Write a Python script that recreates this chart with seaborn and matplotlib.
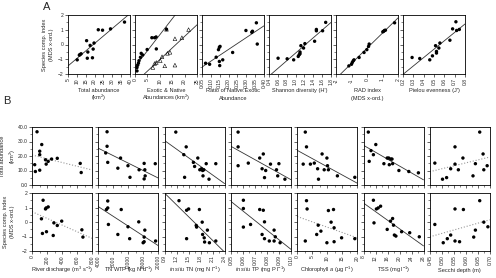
import numpy as np
import matplotlib
matplotlib.use('Agg')
import matplotlib.pyplot as plt
import seaborn as sns

sns.set_style('ticks')
plt.rcParams['font.family'] = ['Liberation Sans', 'DejaVu Sans']
plt.rcParams['mathtext.fontset'] = 'custom'
plt.rcParams['mathtext.rm'] = 'Liberation Sans'
plt.rcParams['mathtext.it'] = 'Liberation Sans:italic'
plt.rcParams['mathtext.default'] = 'regular'

# ---------------- data: panel A (y = species comp. index) ----------------
tot_abund_x = [10.2, 11.4, 12.4, 11.8, 15.5, 15.9, 16.2, 17.5, 18.8, 19.2, 19.7, 22.1, 24.5, 29.0, 36.9]
tot_abund_y = [-1.04, -0.72, -0.63, -0.68, 0.26, -0.93, -0.51, -0.06, -0.9, -0.31, 0.1, 1.0, 0.97, 1.06, 1.52]

native_x = [0.8, 1.1, 1.4, 1.6, 2.2, 2.5, 3.1, 4.9, 6.8, 7.9, 8.5, 8.6, 12.7, 0.8]
native_y = [-1.56, -1.40, -1.26, -1.10, -0.87, -0.60, -0.71, -0.34, 0.46, 0.46, 0.51, -0.30, 1.03, -1.79]
exotic_x = [7.2, 7.9, 8.6, 10.2, 10.9, 13.1, 14.1, 12.0, 16.1, 16.1, 18.9, 21.6, 12.7]
exotic_y = [-1.56, -1.29, -1.22, -1.10, -0.83, -0.60, -0.53, -1.45, -1.40, 0.39, 0.46, 1.01, 1.03]

ratio_x = [0.07, 0.093, 0.13, 0.143, 0.148, 0.152, 0.148, 0.15, 0.167, 0.223, 0.298, 0.331, 0.335, 0.357, 0.362]
ratio_y = [-1.27, -1.34, -0.86, -0.35, -0.19, -0.13, -1.15, -1.43, -1.04, -0.54, 0.95, 0.83, 0.9, 1.47, 0.03]

shannon_x = [0.605, 0.81, 0.957, 1.06, 1.08, 1.10, 1.12, 1.18, 1.21, 1.10, 1.43, 1.47, 1.47, 1.61, 1.68]
shannon_y = [-0.93, -0.97, -1.04, -0.81, -0.70, -0.63, -0.08, -0.24, 0.06, -0.51, 0.22, 0.93, 1.02, 0.93, 1.50]

rad_x = [-1.17, -1.0, -0.95, -0.89, -0.84, -0.51, -0.19, -0.01, 0.10, 0.14, 1.02, 1.08, 1.13, 1.19, 1.78]
rad_y = [-1.45, -1.34, -1.22, -1.11, -1.04, -0.88, -0.54, -0.35, -0.13, 0.03, 0.86, 0.90, 0.95, 0.97, 1.47]

pielou_x = [0.288, 0.362, 0.459, 0.485, 0.515, 0.524, 0.524, 0.547, 0.557, 0.654, 0.68, 0.712, 0.719, 0.745]
pielou_y = [-0.88, -0.95, -1.04, -0.77, -0.08, -0.58, -0.47, -0.24, 0.10, 0.29, 1.06, 1.54, 0.95, 1.02]

# ---------------- data: panel B ----------------
discharge_x1 = [67, 36, 45, 103, 103, 103, 130, 180, 189, 216, 261, 337, 643, 656]
discharge_y1 = [36.7, 14.0, 9.3, 10.2, 20.9, 23.3, 27.9, 17.4, 14.4, 16.3, 17.9, 18.4, 14.9, 8.6]
discharge_x2 = [148, 180, 189, 216, 126, 139, 193, 283, 292, 337, 396, 665, 679]
discharge_y2 = [1.50, 0.90, 0.97, 1.04, 0.22, -0.79, -0.67, -0.93, -0.06, -0.24, 0.06, -0.54, -1.04]

tnwtp_x1 = [6337, 6337, 5978, 6517, 9213, 9933, 11910, 12450, 14877, 16225, 16405, 16225, 16494, 19190]
tnwtp_y1 = [36.7, 26.7, 22.1, 15.6, 11.6, 18.6, 13.3, 5.3, 10.5, 14.9, 10.5, 4.2, 6.3, 14.7]
tnwtp_x2 = [6517, 6157, 6517, 6697, 10112, 9213, 11910, 12360, 14787, 16405, 16225, 15955, 16225, 19280]
tnwtp_y2 = [1.45, 0.86, 0.97, -0.17, 0.86, -0.86, -0.33, -1.15, 0.01, -0.56, -1.04, -1.43, -1.36, -1.31]

tn_x1 = [1.18, 1.44, 1.38, 1.40, 1.62, 1.65, 1.73, 1.78, 1.82, 1.85, 1.88, 1.86, 1.94, 2.01, 2.18]
tn_y1 = [36.5, 26.3, 20.9, 5.3, 15.6, 12.8, 18.6, 10.5, 11.2, 10.0, 10.5, 6.3, 14.7, 4.0, 14.7]
tn_x2 = [1.26, 1.45, 1.50, 1.45, 1.77, 1.84, 1.69, 1.70, 1.85, 1.89, 1.97, 1.90, 2.02, 2.18]
tn_y2 = [1.47, 0.81, 0.90, -1.15, 0.86, -0.01, -0.24, -0.35, -0.86, -1.09, -0.56, -1.38, -1.43, -1.31]

tp_x1 = [0.056, 0.056, 0.056, 0.0645, 0.074, 0.077, 0.076, 0.079, 0.078, 0.083, 0.088, 0.090, 0.089, 0.095]
tp_y1 = [36.5, 26.3, 13.3, 15.1, 18.6, 21.4, 11.2, 10.0, 5.1, 14.4, 10.5, 14.7, 6.3, 4.0]
tp_x2 = [0.0604, 0.0604, 0.0604, 0.0664, 0.074, 0.077, 0.078, 0.076, 0.078, 0.082, 0.086, 0.086, 0.087, 0.091]
tp_y2 = [1.50, 0.93, -0.35, -0.17, 0.86, 0.81, 0.01, -0.86, -1.15, -1.31, -0.56, -1.31, -1.02, -1.43]

chla_x1 = [2.7, 3.1, 2.0, 4.4, 5.7, 6.8, 7.1, 8.3, 9.0, 9.9, 10.1, 10.4, 13.4, 19.2]
chla_y1 = [36.5, 26.3, 14.4, 14.4, 15.1, 11.2, 4.0, 21.4, 10.5, 18.6, 13.3, 10.5, 6.3, 5.3]
chla_x2 = [3.1, 3.3, 2.7, 7.0, 7.9, 6.5, 9.9, 10.4, 12.1, 11.3, 12.3, 12.3, 14.8, 19.2]
chla_y2 = [1.47, 0.90, -1.31, -0.22, -0.63, -0.86, -1.43, 0.79, 0.86, -0.01, -0.40, -1.36, -1.09, -1.15]

tss_x1 = [9.6, 9.9, 10.5, 11.3, 12.1, 14.8, 15.9, 16.4, 17.1, 17.5, 16.6, 17.7, 19.8, 23.1, 26.3]
tss_y1 = [36.5, 16.3, 23.7, 20.9, 27.9, 14.7, 18.6, 18.6, 17.9, 17.9, 14.0, 14.7, 10.0, 9.3, 8.4]
tss_x2 = [11.3, 11.5, 12.3, 12.9, 13.7, 15.9, 17.0, 17.7, 18.0, 18.3, 18.8, 20.7, 23.4, 26.6]
tss_y2 = [1.50, -0.06, 0.90, 0.97, 1.09, -0.51, 0.06, 0.24, -0.22, -0.90, -0.97, -0.67, -0.74, -1.02]

secchi_x1 = [0.471, 0.503, 0.520, 0.537, 0.555, 0.555, 0.569, 0.588, 0.630, 0.640, 0.658, 0.672, 0.675, 0.689]
secchi_y1 = [15.1, 4.0, 5.1, 11.2, 26.3, 14.4, 10.5, 18.6, 6.3, 14.7, 36.5, 21.4, 10.5, 13.3]
secchi_x2 = [0.471, 0.506, 0.523, 0.537, 0.555, 0.555, 0.574, 0.590, 0.633, 0.640, 0.658, 0.675, 0.692]
secchi_y2 = [-0.17, -1.43, -1.15, -0.90, 0.90, -1.31, -1.36, 0.86, -1.04, -0.56, 1.47, -0.01, -0.33]

W, H = 496, 278
fig = plt.figure(figsize=(W / 100, H / 100), dpi=100)
FS = 4.1


def add_ax(left, top, w, h):
    return fig.add_axes([left / W, 1 - (top + h) / H, w / W, h / H])


def style(ax):
    for s in ax.spines.values():
        s.set_linewidth(0.6)
        s.set_color('black')
    ax.tick_params(which='major', length=2, width=0.5, labelsize=3.6, pad=1)
    ax.tick_params(which='minor', length=1.5, width=0.4)
    ax.tick_params(axis='x', labelrotation=90)
    ax.set_xlabel('')
    ax.set_ylabel('')


def draw(ax, x, y, sig=True, marker='o', open_marker=False):
    if open_marker:
        ax.scatter(x, y, marker=marker, s=7, facecolors='none', edgecolors='black', linewidths=0.4, zorder=3)
    else:
        sns.scatterplot(x=x, y=y, ax=ax, color='black', s=6, marker=marker, edgecolor='none', zorder=3)
    if sig:
        lk = dict(color='#333333', lw=0.6)
    else:
        lk = dict(color='#999999', lw=0.8, ls=':')
    sns.regplot(x=x, y=y, ax=ax, scatter=False, ci=None, truncate=False, line_kws=lk)


def xlab(ax, text, y_px_below, step_px=8):
    # each line placed on its own baseline below the axes
    h_px = ax.get_position().height * H
    for k, line in enumerate(text.split('\n')):
        ax.text(0.5, -(y_px_below + k * step_px) / h_px, line, transform=ax.transAxes,
                ha='center', va='baseline', fontsize=FS)


def ylab(ax, text, x_px_left):
    w_px = ax.get_position().width * W
    ax.text(-x_px_left / w_px, 0.5, text, transform=ax.transAxes, ha='center', va='center',
            rotation=90, fontsize=FS, linespacing=1.45)


# ---------------- row A ----------------
a_specs = [
    (tot_abund_x, tot_abund_y, (5, 40), np.arange(5, 41, 5), '{:.0f}', 'Total abundance\n(km$^2$)'),
    (None, None, (0, 25), np.arange(0, 26, 5), '{:.0f}', 'Exotic & Native\nAbundances (km$^2$)'),
    (ratio_x, ratio_y, (0.05, 0.40), np.arange(0.05, 0.401, 0.05), '{:.2f}', 'Ratio of Native:Exotic\nAbundance'),
    (shannon_x, shannon_y, (0.4, 1.8), np.arange(0.4, 1.81, 0.2), '{:.1f}', "Shannon diversity (H')"),
    (rad_x, rad_y, (-2, 2), np.arange(-2, 2.1, 1), '{:.0f}', 'RAD index\n(MDS x-ord.)'),
    (pielou_x, pielou_y, (0.2, 0.8), np.arange(0.2, 0.81, 0.1), '{:.1f}', "Pielou evenness (J')"),
]
for i, (x, y, xl, xt, fmt, lab) in enumerate(a_specs):
    ax = add_ax(68 + i * 67, 15, 62, 59)
    ax.set_xlim(xl)
    ax.set_ylim(-2, 2)
    if i == 1:
        draw(ax, native_x, native_y)
        draw(ax, exotic_x, exotic_y, marker='^', open_marker=True)
    else:
        draw(ax, x, y)
    ax.set_xlim(xl)
    ax.set_ylim(-2, 2)
    style(ax)
    ax.set_xticks(xt)
    ax.set_xticklabels([fmt.format(v) for v in xt])
    ax.set_yticks(np.arange(-2, 2.1, 1))
    ax.set_yticks(np.arange(-2, 2.1, 0.5), minor=True)
    if i == 0:
        ylab(ax, 'Species comp. index\n(MDS x-ord.)', 20)
    else:
        ax.set_yticklabels([])
    xlab(ax, lab, 18)

fig.text(43 / W, 1 - 7 / H, 'A', fontsize=8, va='center', ha='left')
fig.text(3 / W, 1 - 101 / H, 'B', fontsize=8, va='center', ha='left')

# ---------------- row B ----------------
b_specs = [
    (discharge_x1, discharge_y1, False, discharge_x2, discharge_y2, False, (0, 800), 200, '{:.0f}',
     'River discharge (m$^3$ s$^{-1}$)'),
    (tnwtp_x1, tnwtp_y1, True, tnwtp_x2, tnwtp_y2, True, (4000, 20000), 4000, '{:.0f}',
     'TN WTP (kg N d$^{-1}$)'),
    (tn_x1, tn_y1, True, tn_x2, tn_y2, True, (0.9, 2.4), 0.3, '{:.1f}',
     '$\\mathit{in\\ situ}$ TN (mg N l$^{-1}$)'),
    (tp_x1, tp_y1, True, tp_x2, tp_y2, True, (0.05, 0.10), 0.01, '{:.2f}',
     '$\\mathit{in\\ situ}$ TP (mg P l$^{-1}$)'),
    (chla_x1, chla_y1, True, chla_x2, chla_y2, False, (0, 20), 5, '{:.0f}',
     'Chlorophyll $\\mathit{a}$ (\u00b5g l$^{-1}$)'),
    (tss_x1, tss_y1, True, tss_x2, tss_y2, True, (8, 28), 4, '{:.0f}',
     'TSS (mg l$^{-1}$)'),
    (secchi_x1, secchi_y1, False, secchi_x2, secchi_y2, False, (0.45, 0.70), 0.05, '{:.2f}',
     'Secchi depth (m)'),
]
for j, (x1, y1, s1, x2, y2, s2, xl, step, fmt, lab) in enumerate(b_specs):
    left = 32 + j * 66.3
    xt = np.arange(xl[0], xl[1] + step / 2, step)
    xm = np.arange(xl[0], xl[1] + step / 4, step / 2)
    for r, (x, y, sig, top) in enumerate([(x1, y1, s1, 127), (x2, y2, s2, 193)]):
        ax = add_ax(left, top, 60, 58)
        ylim = (0, 40) if r == 0 else (-2, 2)
        ax.set_xlim(xl)
        ax.set_ylim(ylim)
        draw(ax, x, y, sig=sig)
        ax.set_xlim(xl)
        ax.set_ylim(ylim)
        style(ax)
        ax.set_xticks(xt)
        ax.set_xticks(xm, minor=True)
        if r == 0:
            ax.set_yticks(np.arange(0, 41, 10))
            ax.set_yticks(np.arange(0, 41, 5), minor=True)
            ax.set_xticklabels([])
            if j == 0:
                ax.set_yticklabels(['{:.1f}'.format(v) for v in np.arange(0, 41, 10)])
                ylab(ax, 'Total abundance\n(km$^2$)', 23)
            else:
                ax.set_yticklabels([])
        else:
            ax.set_yticks(np.arange(-2, 2.1, 1))
            ax.set_yticks(np.arange(-2, 2.1, 0.5), minor=True)
            ax.set_xticklabels([fmt.format(v) for v in xt])
            xlab(ax, lab, 21)
            if j == 0:
                ylab(ax, 'Species comp. index\n(MDS x-ord.)', 23)
            else:
                ax.set_yticklabels([])

fig.savefig('out.png', dpi=100)
